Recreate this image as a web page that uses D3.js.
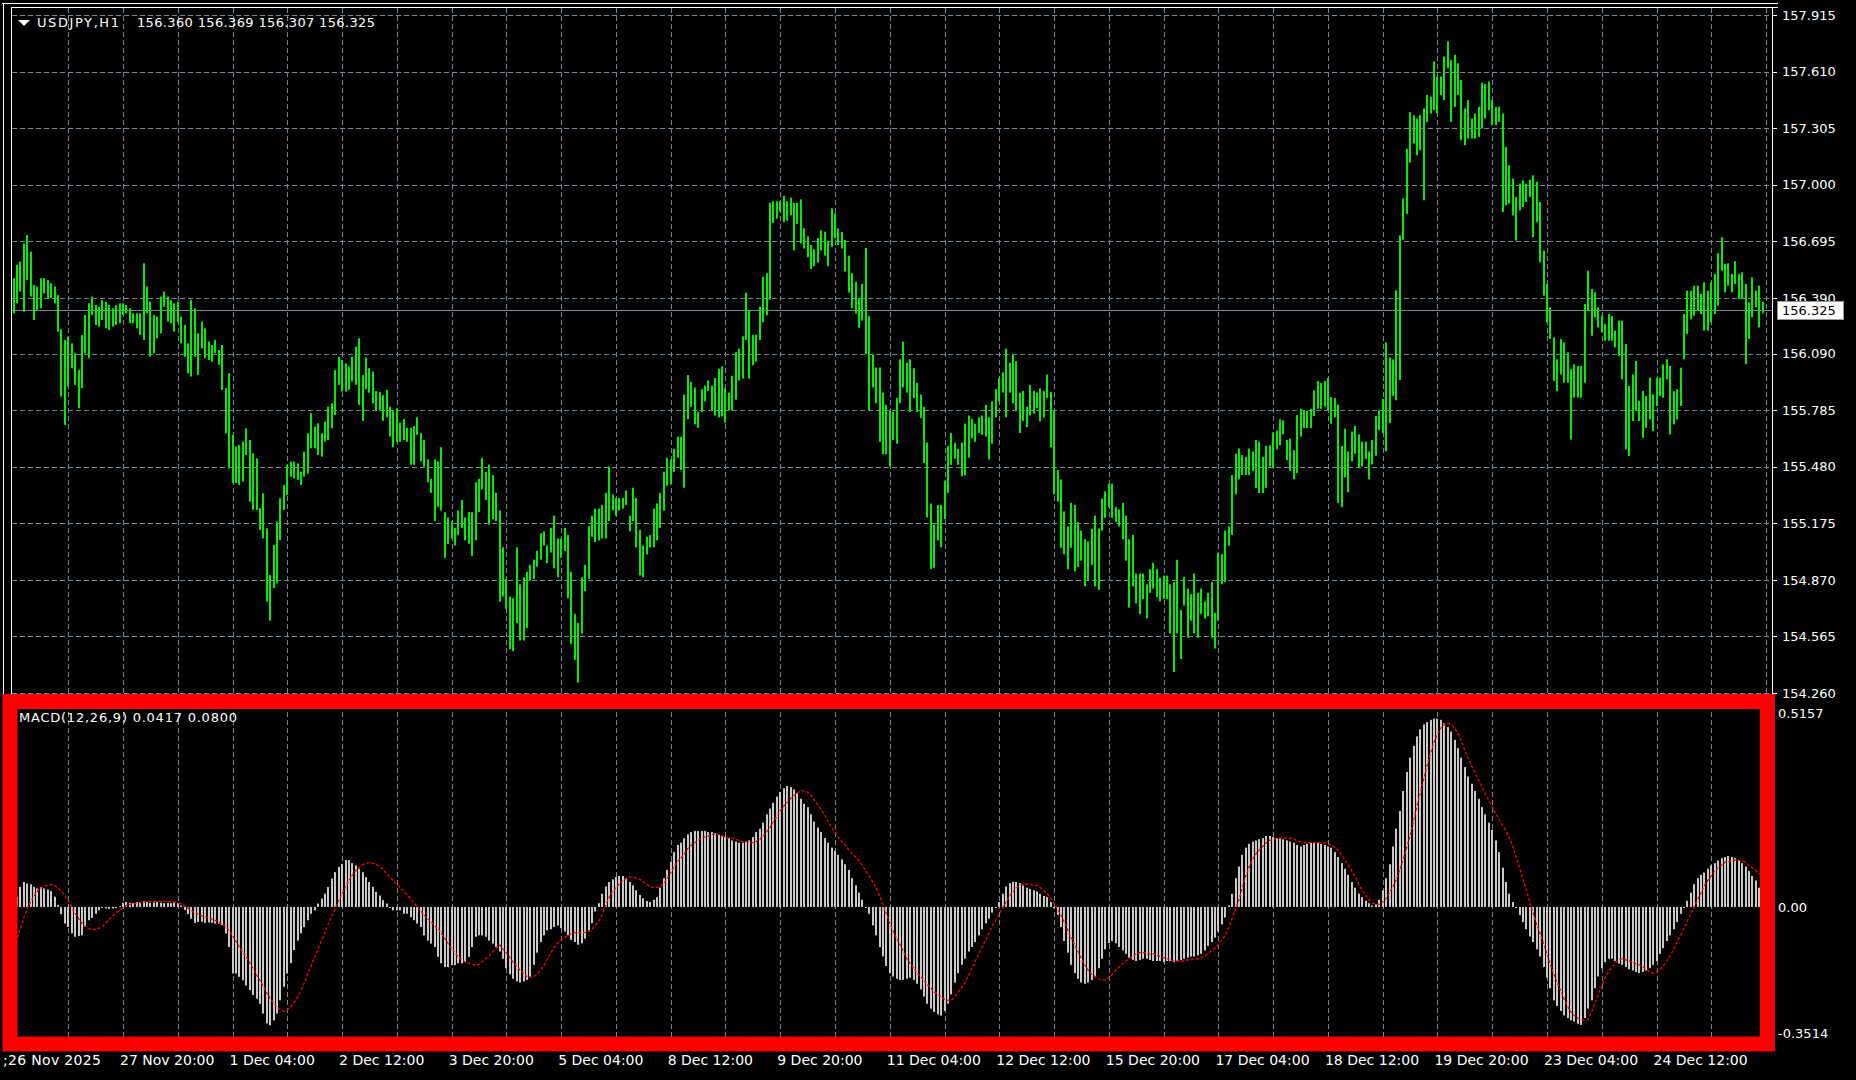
<!DOCTYPE html>
<html><head><meta charset="utf-8">
<script src="https://cdn.jsdelivr.net/npm/d3@7"></script>
<style>html,body{margin:0;padding:0;background:#000;overflow:hidden}</style>
</head><body>
<script>
// ---------- DATA ----------
const high = [
156.496,156.568,156.586,156.684,156.729,156.639,156.460,156.451,156.496,156.496,
156.487,156.469,156.451,156.406,156.221,156.163,156.181,156.145,156.091,156.002,
156.190,156.298,156.361,156.397,156.352,156.343,156.379,156.370,156.352,156.334,
156.352,156.361,156.361,156.352,156.334,156.307,156.307,156.307,156.577,156.451,
156.370,156.298,156.289,156.397,156.424,156.397,156.379,156.361,156.370,156.289,
156.244,156.145,156.379,156.334,156.199,156.262,156.226,156.154,156.136,156.163,
156.109,156.136,155.903,155.984,155.651,155.588,155.597,155.615,155.687,155.624,
155.552,155.525,155.256,155.337,155.148,154.896,155.058,155.184,155.310,155.382,
155.489,155.507,155.507,155.498,155.454,155.561,155.660,155.768,155.696,155.714,
155.660,155.723,155.804,155.822,156.002,156.073,156.055,156.037,156.020,156.073,
156.127,156.172,155.974,156.068,156.011,155.993,155.888,155.883,155.866,155.894,
155.803,155.784,155.794,155.718,155.737,155.690,155.690,155.699,155.746,155.661,
155.623,155.519,155.415,155.519,155.509,155.585,155.235,155.206,155.187,155.150,
155.244,155.301,155.206,155.235,155.235,155.396,155.415,155.528,155.453,155.491,
155.434,155.339,155.244,155.045,154.875,154.780,154.771,155.045,154.846,154.884,
154.913,154.951,154.979,155.026,155.121,155.131,155.055,155.150,155.216,155.093,
155.093,155.150,155.112,154.913,154.685,154.638,154.884,154.951,155.159,155.216,
155.254,155.254,155.273,155.339,155.481,155.330,155.311,155.311,155.311,155.352,
155.216,155.367,155.311,155.140,155.055,155.102,155.112,155.254,155.282,155.339,
155.453,155.528,155.519,155.576,155.642,155.642,155.869,155.974,155.936,155.907,
155.775,155.898,155.917,155.945,155.917,155.958,156.008,156.021,155.902,155.879,
155.970,156.097,156.116,156.182,156.419,156.324,156.191,156.191,156.343,156.504,
156.523,156.902,156.911,156.911,156.911,156.940,156.911,156.930,156.902,156.902,
156.921,156.765,156.722,156.675,156.652,156.712,156.754,156.747,156.697,156.873,
156.845,156.765,156.745,156.703,156.618,156.523,156.476,156.390,156.466,156.659,
156.292,156.087,156.015,156.015,155.879,155.813,155.784,155.775,155.850,156.059,
156.154,156.040,156.059,156.011,155.932,155.869,155.803,155.610,155.282,155.168,
155.273,155.273,155.405,155.591,155.661,155.610,155.576,155.610,155.712,155.756,
155.737,155.712,155.746,155.756,155.813,155.746,155.832,155.898,155.958,155.989,
156.116,156.040,156.087,156.049,155.879,155.888,155.803,155.921,155.888,155.879,
155.902,155.888,155.977,155.883,155.784,155.462,155.412,155.239,155.158,155.285,
155.273,155.181,155.135,155.089,155.077,155.146,155.216,155.146,155.308,155.347,
155.389,155.389,155.262,155.250,155.285,155.216,155.089,155.112,154.904,154.904,
154.904,154.846,154.927,154.962,154.927,154.881,154.893,154.893,154.846,154.858,
154.978,154.708,154.886,154.823,154.793,154.904,154.800,154.823,154.754,154.800,
154.858,154.692,155.015,155.008,155.135,155.158,155.435,155.550,155.578,155.543,
155.532,155.578,155.562,155.624,155.615,155.532,155.592,155.596,155.665,155.675,
155.735,155.730,155.624,155.631,155.569,155.758,155.792,155.785,155.781,155.792,
155.892,155.942,155.931,155.942,155.958,155.855,155.850,155.815,155.592,155.684,
155.562,155.670,155.700,155.654,155.615,155.615,155.562,155.624,155.753,155.785,
155.845,156.150,156.069,156.058,156.431,156.727,156.927,157.193,157.391,157.375,
157.357,157.375,157.411,157.484,157.474,157.664,157.583,157.583,157.691,157.772,
157.673,157.700,157.655,157.565,157.411,157.456,157.357,157.384,157.420,157.550,
157.543,157.556,157.456,157.420,157.420,157.384,157.204,157.105,157.033,156.934,
157.006,157.024,157.006,157.027,157.051,157.015,156.907,156.645,156.465,156.339,
156.177,156.059,156.168,156.150,156.096,156.005,156.032,156.023,156.023,156.357,
156.537,156.438,156.420,156.339,156.294,156.249,156.303,156.294,156.213,156.267,
156.267,156.141,155.915,155.978,156.050,155.834,155.888,155.861,155.960,155.870,
155.960,155.960,156.032,156.059,156.023,155.888,155.897,156.014,156.303,156.429,
156.429,156.456,156.456,156.411,156.474,156.429,156.474,156.519,156.631,156.717,
156.573,156.577,156.519,156.588,156.519,156.528,156.465,156.366,156.501,156.429,
156.456,156.369];
const low = [
156.307,156.361,156.424,156.316,156.487,156.397,156.271,156.325,156.334,156.415,
156.388,156.388,156.361,156.208,155.858,155.705,155.912,156.011,155.921,155.795,
155.903,156.091,156.064,156.298,156.244,156.235,156.271,156.226,156.217,156.235,
156.244,156.253,156.298,156.307,156.253,156.253,156.226,156.190,156.163,156.307,
156.073,156.091,156.172,156.199,156.343,156.262,156.253,156.208,156.262,156.145,
156.073,155.984,155.966,156.073,155.975,156.118,156.064,156.055,156.046,156.091,
156.029,155.894,155.660,155.471,155.391,155.391,155.382,155.400,155.543,155.292,
155.247,155.247,155.139,155.094,154.753,154.650,154.825,154.852,155.085,155.247,
155.328,155.426,155.417,155.409,155.382,155.426,155.444,155.579,155.579,155.543,
155.534,155.615,155.624,155.687,155.759,155.921,155.885,155.885,155.894,155.939,
155.921,155.813,155.727,155.898,155.879,155.822,155.784,155.784,155.727,155.746,
155.642,155.585,155.614,155.614,155.623,155.614,155.490,155.490,155.652,155.509,
155.481,155.396,155.339,155.187,155.263,155.244,154.989,155.064,155.093,155.055,
155.112,155.150,155.083,155.064,154.998,155.083,155.235,155.358,155.301,155.168,
155.197,155.187,154.752,154.780,154.714,154.496,154.486,154.638,154.543,154.543,
154.610,154.865,154.875,154.941,154.979,155.055,154.960,155.017,154.932,154.884,
154.989,155.026,154.771,154.524,154.439,154.316,154.581,154.809,154.875,155.102,
155.074,155.083,155.093,155.093,155.187,155.244,155.216,155.244,155.254,155.273,
155.131,155.187,155.045,154.894,154.884,155.007,155.045,155.045,155.083,155.150,
155.244,155.377,155.386,155.453,155.528,155.462,155.367,155.737,155.803,155.708,
155.690,155.775,155.832,155.888,155.784,155.756,155.746,155.750,155.718,155.784,
155.784,155.841,155.945,155.955,156.163,155.955,156.027,156.046,156.163,156.258,
156.296,156.381,156.794,156.817,156.854,156.798,156.807,156.836,156.646,156.788,
156.684,156.656,156.608,156.546,156.561,156.580,156.646,156.618,156.561,156.665,
156.712,156.675,156.656,156.532,156.419,156.334,156.305,156.229,156.267,156.087,
155.784,155.907,155.822,155.614,155.547,155.547,155.481,155.623,155.604,155.822,
155.907,155.879,155.775,155.850,155.775,155.743,155.500,155.206,154.928,154.935,
155.083,155.045,155.197,155.339,155.490,155.523,155.490,155.428,155.434,155.528,
155.633,155.614,155.661,155.652,155.642,155.519,155.604,155.746,155.832,155.879,
155.746,155.879,155.822,155.784,155.661,155.727,155.693,155.756,155.765,155.794,
155.724,155.746,155.850,155.585,155.330,155.292,155.043,155.008,154.927,155.043,
154.916,154.939,154.973,154.835,154.869,154.950,154.835,154.816,155.135,155.204,
155.262,155.204,155.181,155.158,155.089,154.973,154.720,154.835,154.743,154.685,
154.766,154.662,154.800,154.823,154.777,154.754,154.766,154.766,154.581,154.373,
154.581,154.443,154.731,154.558,154.650,154.581,154.558,154.685,154.662,154.673,
154.558,154.500,154.650,154.846,154.858,155.054,155.112,155.331,155.412,155.435,
155.435,155.435,155.458,155.366,155.338,155.338,155.366,155.481,155.476,155.573,
155.596,155.654,155.515,155.458,155.412,155.446,155.642,155.688,155.688,155.688,
155.753,155.792,155.792,155.804,155.785,155.712,155.746,155.285,155.262,155.423,
155.342,155.509,155.550,155.476,155.481,155.522,155.412,155.492,155.539,155.677,
155.661,155.562,155.716,155.862,155.838,155.947,156.704,156.842,157.119,157.222,
157.159,157.186,156.916,157.339,157.384,157.402,157.384,157.484,157.456,157.628,
157.339,157.420,157.484,157.240,157.213,157.249,157.249,157.249,157.258,157.303,
157.357,157.402,157.321,157.321,157.339,156.853,156.889,156.898,156.835,156.699,
156.862,156.880,156.907,156.934,156.717,156.798,156.582,156.402,156.258,156.168,
155.942,155.888,155.978,155.933,155.933,155.627,155.852,155.852,155.852,155.933,
156.321,156.186,156.285,156.231,156.204,156.159,156.159,156.159,156.123,156.077,
155.951,155.573,155.537,155.726,155.780,155.726,155.636,155.690,155.735,155.672,
155.807,155.861,155.852,155.951,155.654,155.708,155.735,155.807,156.059,156.195,
156.276,156.294,156.321,156.303,156.213,156.213,156.258,156.303,156.348,156.537,
156.420,156.456,156.420,156.465,156.384,156.384,156.032,156.168,156.285,156.339,
156.231,156.307];

// MACD main line (histogram), one value per bar
const macdMain = [
0.010,0.027,0.053,0.066,0.062,0.060,0.053,0.049,0.053,0.049,
0.046,0.042,0.027,0.005,-0.019,-0.044,-0.053,-0.070,-0.079,-0.077,
-0.075,-0.053,-0.035,-0.029,-0.018,-0.009,0.000,-0.004,-0.005,-0.004,
-0.003,0.002,0.011,0.013,0.011,0.010,0.013,0.011,0.015,0.013,
0.011,0.012,0.013,0.011,0.010,0.011,0.010,0.012,0.010,0.004,
-0.008,-0.019,-0.031,-0.042,-0.040,-0.039,-0.042,-0.041,-0.042,-0.044,
-0.044,-0.048,-0.070,-0.106,-0.176,-0.176,-0.185,-0.194,-0.208,-0.220,
-0.233,-0.243,-0.256,-0.282,-0.308,-0.313,-0.300,-0.282,-0.247,-0.211,
-0.176,-0.149,-0.114,-0.089,-0.070,-0.053,-0.035,-0.018,-0.009,0.009,
0.022,0.035,0.053,0.075,0.092,0.106,0.114,0.124,0.124,0.116,
0.110,0.101,0.092,0.079,0.066,0.053,0.040,0.030,0.018,0.009,
0.000,-0.009,-0.009,-0.009,-0.018,-0.018,-0.027,-0.035,-0.044,-0.053,
-0.075,-0.089,-0.097,-0.106,-0.132,-0.149,-0.159,-0.159,-0.154,-0.154,
-0.149,-0.149,-0.146,-0.132,-0.106,-0.079,-0.075,-0.075,-0.079,-0.089,
-0.097,-0.106,-0.118,-0.137,-0.162,-0.178,-0.190,-0.197,-0.200,-0.197,
-0.193,-0.184,-0.153,-0.121,-0.093,-0.075,-0.062,-0.059,-0.053,-0.049,
-0.056,-0.065,-0.075,-0.087,-0.093,-0.100,-0.096,-0.084,-0.062,-0.043,
-0.012,0.010,0.035,0.054,0.066,0.073,0.079,0.082,0.082,0.076,
0.066,0.057,0.044,0.032,0.023,0.016,0.013,0.019,0.026,0.051,
0.076,0.098,0.120,0.145,0.164,0.170,0.182,0.192,0.198,0.201,
0.201,0.201,0.201,0.198,0.198,0.195,0.192,0.188,0.185,0.182,
0.176,0.173,0.170,0.170,0.173,0.176,0.185,0.198,0.207,0.223,
0.245,0.260,0.276,0.292,0.304,0.314,0.320,0.317,0.311,0.301,
0.286,0.273,0.264,0.245,0.226,0.210,0.198,0.182,0.170,0.157,
0.148,0.138,0.126,0.113,0.098,0.076,0.057,0.038,0.019,0.000,
-0.018,-0.049,-0.075,-0.106,-0.131,-0.156,-0.175,-0.184,-0.190,-0.193,
-0.193,-0.190,-0.187,-0.193,-0.203,-0.218,-0.237,-0.256,-0.269,-0.278,
-0.284,-0.287,-0.275,-0.256,-0.231,-0.200,-0.175,-0.153,-0.137,-0.118,
-0.106,-0.093,-0.075,-0.059,-0.043,-0.031,-0.015,0.000,0.013,0.035,
0.054,0.063,0.066,0.066,0.063,0.057,0.051,0.048,0.044,0.041,
0.035,0.029,0.026,0.013,-0.003,-0.021,-0.053,-0.090,-0.121,-0.153,
-0.175,-0.190,-0.200,-0.203,-0.200,-0.193,-0.184,-0.162,-0.137,-0.112,
-0.096,-0.090,-0.096,-0.106,-0.115,-0.124,-0.134,-0.140,-0.143,-0.140,
-0.137,-0.137,-0.140,-0.143,-0.143,-0.143,-0.146,-0.143,-0.143,-0.146,
-0.143,-0.140,-0.137,-0.134,-0.131,-0.131,-0.128,-0.124,-0.115,-0.103,
-0.093,-0.081,-0.065,-0.046,-0.028,0.004,0.035,0.076,0.107,0.138,
0.157,0.167,0.173,0.176,0.179,0.182,0.188,0.188,0.185,0.182,
0.182,0.179,0.176,0.173,0.170,0.164,0.160,0.164,0.167,0.170,
0.170,0.170,0.167,0.164,0.160,0.157,0.145,0.132,0.116,0.101,
0.085,0.066,0.051,0.035,0.026,0.016,0.010,0.004,0.007,0.019,
0.044,0.076,0.113,0.160,0.207,0.254,0.307,0.357,0.395,0.426,
0.451,0.470,0.483,0.489,0.495,0.498,0.498,0.495,0.486,0.476,
0.464,0.442,0.420,0.395,0.370,0.345,0.326,0.307,0.286,0.264,
0.245,0.223,0.204,0.176,0.145,0.104,0.066,0.035,0.013,-0.003,
-0.021,-0.040,-0.059,-0.078,-0.093,-0.112,-0.131,-0.159,-0.187,-0.215,
-0.247,-0.262,-0.275,-0.287,-0.294,-0.300,-0.303,-0.309,-0.312,-0.294,
-0.269,-0.247,-0.215,-0.184,-0.162,-0.146,-0.137,-0.137,-0.143,-0.150,
-0.153,-0.159,-0.165,-0.168,-0.172,-0.175,-0.172,-0.168,-0.162,-0.153,
-0.143,-0.124,-0.109,-0.090,-0.075,-0.059,-0.040,-0.018,0.000,0.016,
0.038,0.060,0.076,0.085,0.091,0.101,0.110,0.116,0.123,0.129,
0.132,0.135,0.132,0.129,0.123,0.116,0.107,0.095,0.082,0.070,
0.051,0.0417];
// MACD signal line, one value per bar
const macdSignal = [
-0.105,-0.086,-0.057,-0.029,-0.005,0.014,0.029,0.043,0.050,0.055,
0.058,0.060,0.057,0.050,0.041,0.031,0.017,0.000,-0.017,-0.030,
-0.043,-0.051,-0.057,-0.060,-0.060,-0.056,-0.051,-0.042,-0.033,-0.023,
-0.015,-0.009,-0.002,0.004,0.007,0.009,0.010,0.012,0.013,0.014,
0.015,0.015,0.015,0.015,0.015,0.015,0.014,0.013,0.011,0.008,
0.003,-0.004,-0.010,-0.015,-0.019,-0.023,-0.026,-0.029,-0.032,-0.036,
-0.040,-0.046,-0.052,-0.063,-0.076,-0.091,-0.106,-0.119,-0.132,-0.148,
-0.163,-0.179,-0.194,-0.210,-0.227,-0.242,-0.254,-0.266,-0.272,-0.276,
-0.272,-0.264,-0.252,-0.238,-0.220,-0.200,-0.176,-0.155,-0.133,-0.110,
-0.089,-0.067,-0.044,-0.023,-0.004,0.016,0.035,0.053,0.070,0.084,
0.097,0.105,0.112,0.115,0.117,0.115,0.112,0.107,0.099,0.089,
0.079,0.069,0.060,0.050,0.042,0.032,0.022,0.011,0.000,-0.011,
-0.022,-0.031,-0.040,-0.049,-0.057,-0.070,-0.084,-0.097,-0.110,-0.122,
-0.132,-0.139,-0.146,-0.149,-0.152,-0.154,-0.152,-0.145,-0.137,-0.129,
-0.119,-0.109,-0.100,-0.112,-0.121,-0.134,-0.147,-0.156,-0.168,-0.175,
-0.184,-0.187,-0.184,-0.178,-0.168,-0.153,-0.137,-0.121,-0.106,-0.096,
-0.087,-0.081,-0.075,-0.071,-0.068,-0.068,-0.068,-0.068,-0.065,-0.059,
-0.049,-0.037,-0.018,0.004,0.026,0.041,0.051,0.060,0.070,0.076,
0.079,0.079,0.076,0.073,0.066,0.060,0.054,0.051,0.051,0.054,
0.063,0.076,0.091,0.107,0.120,0.129,0.141,0.154,0.164,0.170,
0.176,0.182,0.185,0.188,0.192,0.192,0.192,0.188,0.185,0.182,
0.182,0.179,0.176,0.173,0.173,0.170,0.170,0.173,0.179,0.188,
0.198,0.210,0.226,0.239,0.254,0.267,0.276,0.286,0.295,0.301,
0.307,0.307,0.304,0.295,0.282,0.270,0.257,0.242,0.226,0.210,
0.198,0.185,0.173,0.164,0.151,0.141,0.132,0.123,0.110,0.095,
0.082,0.066,0.051,0.029,0.007,-0.018,-0.043,-0.065,-0.084,-0.100,
-0.118,-0.137,-0.150,-0.162,-0.175,-0.184,-0.193,-0.206,-0.215,-0.225,
-0.231,-0.237,-0.244,-0.247,-0.247,-0.237,-0.225,-0.212,-0.200,-0.181,
-0.162,-0.143,-0.124,-0.106,-0.087,-0.068,-0.049,-0.034,-0.018,-0.003,
0.013,0.029,0.041,0.051,0.057,0.060,0.060,0.060,0.057,0.057,
0.051,0.044,0.035,0.023,0.010,-0.006,-0.021,-0.040,-0.062,-0.081,
-0.100,-0.118,-0.137,-0.153,-0.168,-0.178,-0.184,-0.190,-0.193,-0.193,
-0.187,-0.178,-0.168,-0.159,-0.150,-0.143,-0.137,-0.131,-0.124,-0.121,
-0.121,-0.121,-0.124,-0.124,-0.128,-0.131,-0.134,-0.137,-0.140,-0.143,
-0.143,-0.143,-0.143,-0.140,-0.140,-0.137,-0.137,-0.134,-0.131,-0.124,
-0.115,-0.109,-0.100,-0.087,-0.075,-0.056,-0.031,-0.006,0.019,0.051,
0.082,0.107,0.126,0.141,0.151,0.160,0.170,0.176,0.179,0.182,
0.182,0.182,0.182,0.182,0.179,0.176,0.173,0.170,0.170,0.170,
0.170,0.170,0.170,0.170,0.167,0.164,0.157,0.151,0.138,0.123,
0.110,0.095,0.079,0.060,0.044,0.032,0.019,0.010,0.007,0.007,
0.013,0.023,0.038,0.054,0.073,0.098,0.126,0.157,0.188,0.226,
0.267,0.301,0.339,0.376,0.408,0.436,0.458,0.473,0.483,0.486,
0.483,0.473,0.458,0.439,0.414,0.392,0.373,0.354,0.336,0.317,
0.298,0.282,0.264,0.248,0.232,0.217,0.201,0.183,0.160,0.132,
0.103,0.073,0.044,0.012,-0.018,-0.047,-0.071,-0.096,-0.124,-0.153,
-0.178,-0.200,-0.222,-0.244,-0.262,-0.278,-0.287,-0.294,-0.297,-0.300,
-0.297,-0.278,-0.256,-0.231,-0.209,-0.187,-0.172,-0.159,-0.147,-0.140,
-0.137,-0.140,-0.143,-0.147,-0.150,-0.153,-0.159,-0.165,-0.172,-0.175,
-0.172,-0.165,-0.156,-0.143,-0.128,-0.112,-0.093,-0.075,-0.056,-0.037,
-0.018,0.000,0.019,0.038,0.057,0.070,0.082,0.095,0.104,0.110,
0.118,0.120,0.122,0.124,0.124,0.123,0.118,0.110,0.103,0.097,
0.089,0.080];

const priceTicks = [157.915,157.610,157.305,157.000,156.695,156.390,156.090,155.785,155.480,155.175,154.870,154.565,154.260];
const priceTickLabels = ["157.915","157.610","157.305","157.000","156.695","156.390","156.090","155.785","155.480","155.175","154.870","154.565","154.260"];
const macdTicks = [0.5157, 0.0, -0.3514];
const macdTickLabels = ["0.5157","0.00","-0.3514"];
const timeLabels = [";26 Nov 2025","27 Nov 20:00","1 Dec 04:00","2 Dec 12:00","3 Dec 20:00","5 Dec 04:00","8 Dec 12:00","9 Dec 20:00","11 Dec 04:00","12 Dec 12:00","15 Dec 20:00","17 Dec 04:00","18 Dec 12:00","19 Dec 20:00","23 Dec 04:00","24 Dec 12:00"];
const timeLabelBars = [0,32,64,96,128,160,192,224,256,288,320,352,384,416,448,480];
const lastPrice = 156.325;
const symbolTitle = "USDJPY,H1";
const ohlcText = "156.360 156.369 156.307 156.325";
const macdTitle = "MACD(12,26,9) 0.0417 0.0800";

// ---------- DRAW ----------
const W = 1856, H = 1080;
const FONT = "'DejaVu Sans', Tahoma, sans-serif";
const gridColor = "#778899";
const svg = d3.select("body").append("svg").attr("width", W).attr("height", H)
  .style("background", "#000").style("display","block");

const nBars = high.length;
const x = d3.scaleLinear().domain([0, 512]).range([13.5, 13.5 + 3.423 * 512]);
const yP = d3.scaleLinear().domain([154.26, 157.915]).range([693, 15]);
const yM = d3.scaleLinear().domain([-0.3514, 0.5157]).range([1039.8, 712.0]);
const px = v => Math.round(v) + 0.5;

const defs = svg.append("defs");
defs.append("clipPath").attr("id","mainClip").append("rect")
  .attr("x", 12).attr("y", 8).attr("width", 1760).attr("height", 686);
defs.append("clipPath").attr("id","subClip").append("rect")
  .attr("x", 12).attr("y", 700).attr("width", 1760).attr("height", 345);

// vertical grid (every 16 bars)
const gridBars = d3.range(16, 513, 16);
svg.append("g").selectAll("line").data(gridBars).join("line")
  .attr("x1", d => px(x(d))).attr("x2", d => px(x(d)))
  .attr("y1", 8).attr("y2", 1040)
  .attr("stroke", gridColor).attr("stroke-dasharray", "5,3");

// horizontal price grid
svg.append("g").selectAll("line").data(priceTicks).join("line")
  .attr("x1", 12).attr("x2", 1772)
  .attr("y1", d => px(yP(d))).attr("y2", d => px(yP(d)))
  .attr("stroke", gridColor).attr("stroke-dasharray", "5,3");

// current price line
svg.append("line").attr("x1", 12).attr("x2", 1772)
  .attr("y1", px(yP(lastPrice))).attr("y2", px(yP(lastPrice)))
  .attr("stroke", gridColor).attr("stroke-width", 1.2);

// price bars (high-low)
const bars = d3.range(nBars).map(i => ({i, h: high[i], l: low[i]}));
svg.append("g").attr("clip-path","url(#mainClip)").selectAll("rect").data(bars).join("rect")
  .attr("x", d => Math.round(x(d.i)) - 1).attr("width", 2)
  .attr("y", d => yP(d.h)).attr("height", d => Math.max(1, yP(d.l) - yP(d.h)))
  .attr("fill", "#00ee00");

// frame lines
const frame = svg.append("g").attr("stroke", "#fff").attr("stroke-width", 1);
frame.append("line").attr("x1", 2).attr("x2", 1778).attr("y1", 3.5).attr("y2", 3.5);
frame.append("line").attr("x1", 11).attr("x2", 1778).attr("y1", 7.5).attr("y2", 7.5);
frame.append("line").attr("x1", 3.5).attr("x2", 3.5).attr("y1", 3).attr("y2", 694);
frame.append("line").attr("x1", 11.5).attr("x2", 11.5).attr("y1", 7).attr("y2", 694);
frame.append("line").attr("x1", 1772.5).attr("x2", 1772.5).attr("y1", 7).attr("y2", 694);

// price axis ticks & labels
svg.append("g").selectAll("line").data(priceTicks).join("line")
  .attr("x1", 1773).attr("x2", 1777)
  .attr("y1", d => px(yP(d))).attr("y2", d => px(yP(d)))
  .attr("stroke", "#fff");
svg.append("g").selectAll("text").data(priceTicks).join("text")
  .attr("x", 1782).attr("y", d => yP(d)).attr("dy", "0.36em")
  .attr("fill", "#fff").attr("font-family", FONT).attr("font-size", 13)
  .text((d, i) => priceTickLabels[i]);

// current price box
const cpY = yP(lastPrice);
svg.append("rect").attr("x", 1777.5).attr("y", Math.round(cpY) - 8.5).attr("width", 66).attr("height", 18)
  .attr("fill", "#fff").attr("stroke", "#999");
svg.append("text").attr("x", 1782).attr("y", cpY).attr("dy", "0.36em")
  .attr("fill", "#000").attr("font-family", FONT).attr("font-size", 13)
  .text(lastPrice.toFixed(3));

// title
svg.append("path").attr("d", "M18,20 L30,20 L24,26 Z").attr("fill", "#fff");
svg.append("text").attr("x", 37).attr("y", 27).attr("fill", "#fff")
  .attr("font-family", FONT).attr("font-size", 13)
  .attr("textLength", 82).text(symbolTitle);
svg.append("text").attr("x", 137).attr("y", 27).attr("fill", "#fff")
  .attr("font-family", FONT).attr("font-size", 13)
  .attr("textLength", 238).text(ohlcText);

// MACD histogram
const mg = svg.append("g").attr("clip-path","url(#subClip)");
mg.selectAll("rect").data(macdMain.map((v,i)=>({v,i}))).join("rect")
  .attr("x", d => Math.round(x(d.i)) - 1).attr("width", 2)
  .attr("y", d => Math.min(yM(d.v), yM(0)))
  .attr("height", d => Math.max(1, Math.abs(yM(d.v) - yM(0))))
  .attr("fill", "#c8c8c8");
// signal line
mg.append("path").datum(macdSignal)
  .attr("d", d3.line().x((d,i) => x(i)).y(d => yM(d)))
  .attr("fill", "none").attr("stroke", "#ff0000").attr("stroke-width", 1.3)
  .attr("stroke-dasharray", "3,2");

svg.append("text").attr("x", 19).attr("y", 722).attr("fill", "#fff")
  .attr("font-family", FONT).attr("font-size", 13)
  .attr("textLength", 218).text(macdTitle);

// MACD labels
const macdLabelY = [713, 907, 1033];
svg.append("g").selectAll("text").data(macdTicks).join("text")
  .attr("x", 1778).attr("y", (d,i) => macdLabelY[i]).attr("dy", "0.36em")
  .attr("fill", "#fff").attr("font-family", FONT).attr("font-size", 13)
  .text((d, i) => macdTickLabels[i]);

// time labels
svg.append("g").selectAll("text").data(timeLabelBars).join("text")
  .attr("x", (d, i) => i === 0 ? 3 : x(d) - 3).attr("y", 1065)
  .attr("fill", "#fff").attr("font-family", FONT).attr("font-size", 14)
  .each(function(d, i){ if (i === 0) d3.select(this).attr("textLength", 98); })
  .text((d, i) => timeLabels[i]);

// red highlight rectangle
svg.append("rect").attr("x", 10).attr("y", 701.5).attr("width", 1757.5).attr("height", 342.5)
  .attr("fill", "none").attr("stroke", "#ff0000").attr("stroke-width", 15);
</script>
</body></html>
